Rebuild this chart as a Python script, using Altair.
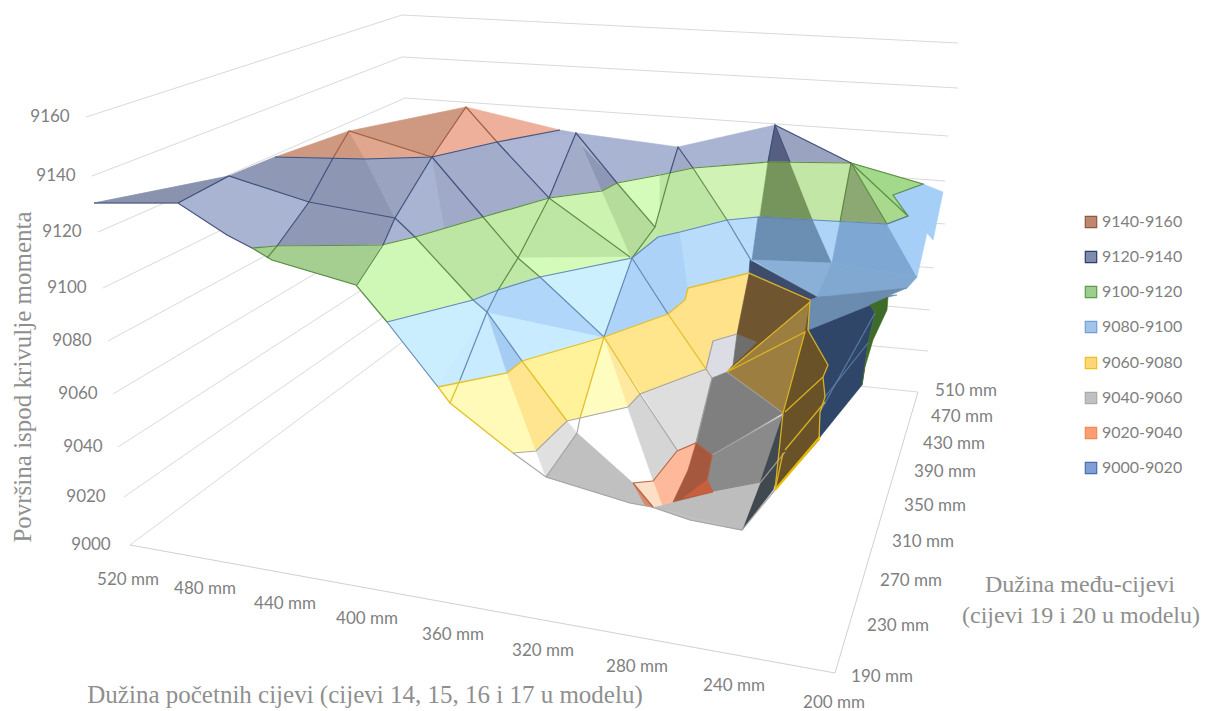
import altair as alt
import pandas as pd

W, H = 1193, 703
SANS, SERIF = "Lato", "Liberation Serif"

z_labels = ["9160","9140","9120","9100","9080","9060","9040","9020","9000"]
z_lx = [50,56,62,67,72,78,83,86,91]
z_ly = [117,176,232,288,341,394,447,497,545]
x_labels = ["520 mm","480 mm","440 mm","400 mm","360 mm","320 mm","280 mm","240 mm","200 mm"]
x_lx = [128,205,285,367,453,543,637,734,834]
x_ly = [580,589,604,619,635,651,667,686,703]
y_labels = ["510 mm","470 mm","430 mm","390 mm","350 mm","310 mm","270 mm","230 mm","190 mm"]
y_lx = [966,962,954,945,935,923,911,898,882]
y_ly = [391,417,444,472,506,542,581,626,677]
legend_labels = ["9140-9160","9120-9140","9100-9120","9080-9100","9060-9080","9040-9060","9020-9040","9000-9020"]
legend_fill = ["#c0876e","#7f8cb0","#9ccf8b","#a3c3ea","#fdd777","#c0c0c0","#fb9f73","#7f9fd6"]
legend_line = ["#8c5a45","#2f3d66","#5f9a4d","#6f9fd6","#efc020","#aaaaaa","#f08a5a","#4a6ba8"]
legend_y = [222,257,292,327,363,398,433,468]

wall_start = [(86,117),(92,176),(98,232),(103,288),(108,341),(113,394),(118,447),(124,497),(130,545)]
wall_back = [(402,15),(402,57),(405,98),(405,140),(405,180),(405,220),(405,262),(405,302),(405,340)]
wall_end = [(958,43),(958,88),(948,136),(945,181),(945,224),(934,268),(930,310),(928,351),(918,392)]
floor_edges = [[(130,545),(835,673),(918,392)]]

band_9140 = [
 ("#eeb09a",[(466,107),(560,130),(497,142),(432,157)]),
 ("#cf9880",[(275,157),(349,131),(466,107),(432,157),(365,159)]),
 ("#e0a78e",[(349,131),(432,157),(365,159)]),
]
band_9120 = [
 ("#a9b3d2",[(94,203),(229,176),(275,157),(365,159),(432,157),(497,142),(560,130),(576,133),(678,147),(775,125),(851,163),(768,162),(693,168),(660,175),(617,183),(602,191),(549,198),(483,217),(415,237),(382,245),(277,246),(252,248),(227,235),(178,203)]),
 ("#8993ae",[(94,203),(178,203),(229,176)]),
 ("#8f99b6",[(229,176),(275,157),(333,158),(309,202)]),
 ("#8d96b2",[(333,158),(365,159),(395,218),(309,202)]),
 ("#9aa3bf",[(365,159),(432,157),(395,218)]),
 ("#8f99b6",[(309,202),(395,218),(382,245),(277,246)]),
 ("#a3accb",[(432,157),(497,142),(549,198),(483,217)]),
 ("#a0aac8",[(432,157),(483,217),(445,230)]),
 ("#adb6d4",[(497,142),(576,133),(549,198)]),
 ("#a2abc8",[(576,133),(602,191),(549,198)]),
 ("#8e97b5",[(583,147),(617,183),(602,191)]),
 ("#565f82",[(775,125),(768,162),(790,162)]),
 ("#9aa3c0",[(775,125),(851,163),(790,162)]),
 ("#a0a9c5",[(678,147),(670,173),(693,168)]),
]
band_9100 = [
 ("#bfe8a6",[(252,248),(277,246),(382,245),(415,237),(483,217),(549,198),(602,191),(617,183),(660,175),(693,168),(768,162),(851,163),(923,184),(893,195),(908,216),(887,224),(813,220),(758,217),(727,220),(680,232),(658,237),(632,258),(540,277),(498,290),(473,300),(387,322),(356,285),(272,260)]),
 ("#a5cf90",[(252,248),(382,245),(356,285),(272,260)]),
 ("#cff7b5",[(382,245),(415,237),(473,300),(387,322),(357,285)]),
 ("#bde5a3",[(415,237),(483,217),(518,258),(498,290),(473,300)]),
 ("#c2eba8",[(483,217),(549,198),(518,258)]),
 ("#bde5a3",[(549,198),(630,257),(522,257)]),
 ("#d4fbba",[(518,258),(630,257),(540,277)]),
 ("#cdf3b0",[(549,198),(602,191),(630,257)]),
 ("#b5dc9a",[(602,191),(617,183),(655,227),(632,258)]),
 ("#d4fbba",[(617,183),(670,173),(655,227)]),
 ("#bde5a3",[(660,175),(693,168),(727,220),(660,236)]),
 ("#d0f3b5",[(693,168),(768,162),(758,217),(727,220)]),
 ("#76955c",[(768,162),(790,162),(813,220),(760,217)]),
 ("#c2e6a5",[(790,162),(851,163),(840,222),(813,220)]),
 ("#8ca873",[(851,163),(887,224),(840,222)]),
 ("#a9d98c",[(851,163),(908,216),(887,224)]),
 ("#a3d98a",[(851,163),(923,184),(893,195),(908,216)]),
]
band_9080 = [
 ("#b9dcfb",[(387,322),(473,300),(498,290),(540,277),(632,258),(658,237),(680,232),(727,220),(758,217),(813,220),(887,224),(917,277),(907,288),(810,300),(749,274),(688,288),(685,300),(668,314),(604,337),(522,361),(507,373),(438,387)]),
 ("#cbeeff",[(387,322),(473,300),(487,312),(438,387)]),
 ("#c8ebff",[(487,312),(522,361),(507,373),(438,387)]),
 ("#a5cdf3",[(487,312),(522,361),(507,373)]),
 ("#c8ebff",[(487,312),(604,337),(522,361)]),
 ("#b0d6fa",[(487,312),(498,290),(540,277),(604,337)]),
 ("#cdf0ff",[(540,277),(632,258),(604,337)]),
 ("#add4f8",[(632,258),(668,314),(604,337)]),
 ("#acd3f7",[(632,258),(658,237),(680,232),(688,288),(685,300),(668,314)]),
 ("#b9dcfb",[(680,232),(727,220),(752,262),(749,274),(688,288)]),
 ("#6b8fb3",[(758,217),(813,220),(832,263),(752,260)]),
 ("#aed4f7",[(813,220),(840,222),(832,263)]),
 ("#7ea8d3",[(840,222),(887,224),(917,277),(832,263)]),
 ("#a5cff7",[(893,195),(923,184),(943,192),(933,240),(927,233),(908,216)]),
 ("#a5cff7",[(887,224),(908,216),(927,233),(917,277)]),
 ("#8ab0d8",[(753,260),(832,263),(817,297)]),
 ("#3c4c6a",[(750,260),(817,297),(810,300),(749,273)]),
 ("#81a8d0",[(832,263),(917,277),(907,288),(817,297)]),
 ("#6b8caf",[(810,300),(820,297),(907,288),(890,295),(873,307),(808,330)]),
]
band_9060 = [
 ("#fffab8",[(438,387),(507,373),(522,361),(567,421),(536,451),(513,453),(450,403)]),
 ("#ffe58f",[(507,373),(522,361),(567,421),(536,451)]),
 ("#fff29a",[(522,361),(604,337),(580,418),(567,421)]),
 ("#fffcc0",[(604,337),(628,407),(580,418)]),
 ("#ffe9a0",[(604,337),(640,394),(628,407)]),
 ("#ffe68c",[(604,337),(668,314),(706,369),(642,394)]),
 ("#ffe28a",[(668,314),(685,300),(688,288),(749,273),(738,334),(713,341),(706,369)]),
]
band_9040 = [
 ("#ffffff",[(567,421),(628,407),(653,482),(633,483),(577,433)]),
 ("#ffffff",[(513,453),(536,451),(546,477)]),
 ("#e0e0e0",[(536,451),(567,421),(577,433),(546,477)]),
 ("#c0c0c0",[(546,477),(577,433),(633,483),(652,507),(630,503)]),
 ("#d5d5d5",[(628,408),(640,395),(677,450),(653,480)]),
 ("#dedede",[(642,394),(706,370),(712,378),(696,443),(677,450)]),
 ("#dcdce4",[(706,369),(713,341),(737,334),(733,365),(727,372),(712,378)]),
 ("#7f7f7f",[(712,378),(727,372),(783,413),(712,455),(696,443)]),
 ("#6e6e6e",[(733,365),(737,334),(757,342)]),
 ("#8a8a8a",[(783,415),(785,450),(760,483),(713,492),(707,480),(712,455)]),
 ("#404850",[(783,415),(785,452),(773,490),(742,530),(760,483)]),
 ("#bdbdbd",[(653,507),(713,492),(760,483),(742,530)]),
 ("#c0c0c0",[(652,507),(690,520),(742,530),(653,507)]),
]
band_9020 = [
 ("#fdb99a",[(633,483),(653,481),(677,451),(696,443),(688,470),(673,502),(662,505)]),
 ("#fddfc5",[(633,483),(653,481),(662,505),(653,507)]),
 ("#a5583e",[(696,443),(712,455),(707,480),(713,492),(673,502),(688,470)]),
 ("#c8603f",[(707,480),(713,492),(683,498)]),
 ("#d98a6a",[(633,483),(653,507),(645,505)]),
]
band_shadow = [
 ("#6f5530",[(737,334),(749,274),(810,300),(810,302),(727,372),(733,365),(757,342)]),
 ("#9c7e40",[(727,372),(810,302),(805,332),(783,413)]),
 ("#6a5228",[(805,332),(810,302),(808,330),(828,365),(823,377),(825,397),(820,412),(819,440),(775,490),(783,413)]),
 ("#2f4668",[(808,330),(870,305),(875,313),(868,343),(862,385),(820,437),(820,412),(825,397),(823,377),(828,365)]),
 ("#6b8caf",[(810,302),(808,330),(870,305),(867,302),(897,295),(817,297)]),
 ("#3f6b28",[(870,305),(888,297),(887,310),(873,340),(865,367),(862,385),(868,343),(875,313)]),
]

line_9120 = ("#3a4a78",1.2,[
 [(94,203),(178,203),(227,235),(252,248)],
 [(178,203),(229,176),(309,202),(395,218)],
 [(333,158),(309,202),(277,246)],
 [(275,157),(365,159),(432,157),(497,142),(560,130)],
 [(432,157),(395,218),(383,245)],[(395,218),(415,237)],[(432,157),(483,217)],
 [(497,142),(549,198),(576,133),(617,183)],
 [(670,173),(678,147),(693,168)],
 [(768,162),(775,125),(790,162)],[(775,125),(851,163)],
])
line_9140 = ("#9a5a3e",1.2,[
 [(333,158),(349,131),(432,157),(466,107),(497,142)],
])
line_9100 = ("#55853f",1.2,[
 [(252,248),(272,260),(356,285),(387,322)],
 [(851,163),(768,162),(693,168),(660,175),(617,183),(602,191),(549,198),(483,217),(415,237),(382,245),(277,246),(252,248)],
 [(277,246),(267,258)],[(383,245),(357,285)],[(415,237),(473,300)],
 [(483,217),(518,258),(540,277)],[(549,198),(518,258),(498,290)],[(549,198),(630,257)],
 [(617,183),(655,227),(632,258)],[(670,173),(655,227)],[(693,168),(727,220)],
 [(851,163),(840,222)],[(851,163),(887,224)],[(851,163),(908,216),(887,224)],
 [(851,163),(923,184),(893,195),(908,216)],
])
line_9080 = ("#5b82ad",1.2,[
 [(387,322),(473,300),(498,290),(540,277),(632,258),(658,237),(680,232),(727,220),(758,217),(813,220),(887,224),(908,216)],
 [(387,322),(438,387)],
 [(473,300),(487,312),(522,361)],[(498,290),(487,312),(460,380)],
 [(540,277),(604,337),(632,258),(668,314)],[(727,220),(752,262)],
 [(820,412),(875,313)],[(825,397),(868,343)],
])
line_9060 = ("#e2bb20",1.3,[
 [(438,387),(507,373),(522,361),(604,337),(668,314),(685,300),(688,288),(749,273),(810,300),(808,330),(828,365),(823,377),(825,397),(820,412),(819,440)],
 [(438,387),(450,403),(513,453)],
 [(460,380),(450,403)],[(522,361),(567,421)],[(604,337),(580,418)],[(604,337),(640,394)],[(668,314),(706,369)],
 [(727,372),(810,302)],[(727,372),(805,332),(783,413),(775,490)],[(785,412),(823,377)],[(785,450),(825,402)],[(775,490),(783,453)],
])
line_edge = ("#f2c400",2.5,[[(775,490),(820,437)]])
line_9040 = ("#a0a0a0",1.2,[
 [(513,453),(536,451),(567,421),(628,407),(640,394),(706,369),(713,341),(737,334)],
 [(513,453),(546,477),(630,503),(652,507),(690,520),(742,530),(775,490)],
 [(546,477),(577,433),(580,418)],[(640,394),(677,450)],[(706,369),(712,378),(696,443)],[(727,372),(783,413)],
 [(712,455),(783,415)],[(760,483),(785,452)],
])
line_9020 = ("#b0603f",1.2,[
 [(633,483),(653,481),(677,451),(696,443),(712,455),(707,480)],[(633,483),(653,507)],
])

title_text = ["Dužina početnih cijevi (cijevi 14, 15, 16 i 17 u modelu)","Dužina među-cijevi","(cijevi 19 i 20 u modelu)"]
title_x = [365,1080,1081]
title_y = [695,585,616]
title_size = [25,24,24]
left_title = "Površina ispod krivulje momenta"

def poly(c, pts):
    ring = [list(p) for p in pts]
    if ring[0] != ring[-1]:
        ring.append(ring[0])
    return {"type":"Feature","geometry":{"type":"Polygon","coordinates":[ring]},"properties":{"c":c}}

def path(c, w, pts):
    return {"type":"Feature","geometry":{"type":"LineString","coordinates":[list(p) for p in pts]},"properties":{"c":c,"w":w}}

grid = [path("#d9d9d9",1,[s,b,e]) for s,b,e in zip(wall_start,wall_back,wall_end)]
grid += [path("#d0d0d0",1,p) for p in floor_edges]

fills = []
for band in [band_9140,band_9120,band_9100,band_9080,band_9060,band_9040,band_9020,band_shadow]:
    fills += [poly(c,p) for c,p in band]

lines = []
for c,w,ps in [line_9140,line_9100,line_9080,line_9040,line_9020,line_9120,line_9060,line_edge]:
    lines += [path(c,w,p) for p in ps]

xs = alt.Scale(domain=[8,8+W], range=[0,W])
ys = alt.Scale(domain=[8+H,8], range=[H,0])

def geo(values, **kw):
    return alt.Chart(alt.Data(values=values)).mark_geoshape(**kw).project(type="identity", scale=1, translate=[-8,-8])

grid_l = geo(grid, filled=False).encode(stroke=alt.Color("properties.c:N",scale=None,legend=None),
                                        strokeWidth=alt.value(1))
fill_l = geo(fills, strokeWidth=0.6).encode(fill=alt.Color("properties.c:N",scale=None,legend=None),
                                            stroke=alt.Color("properties.c:N",scale=None,legend=None))
line_l = geo(lines, filled=False, opacity=0.9).encode(stroke=alt.Color("properties.c:N",scale=None,legend=None),
                                         strokeWidth=alt.StrokeWidth("properties.w:Q",scale=None,legend=None))

axis_df = pd.DataFrame({"t":z_labels+x_labels+y_labels,"x":z_lx+x_lx+y_lx,"y":z_ly+x_ly+y_ly})
axis_l = alt.Chart(axis_df).mark_text(font=SANS,fontSize=17,color="#7f7f7f",align="center",baseline="middle").encode(
    x=alt.X("x:Q",scale=xs,axis=None), y=alt.Y("y:Q",scale=ys,axis=None), text="t:N")

title_df = pd.DataFrame({"t":title_text,"x":title_x,"y":title_y,"s":title_size})
title_l = alt.Chart(title_df).mark_text(font=SERIF,color="#8f8f8f",align="center",baseline="middle").encode(
    x=alt.X("x:Q",scale=xs,axis=None), y=alt.Y("y:Q",scale=ys,axis=None), text="t:N",
    size=alt.Size("s:Q",scale=None,legend=None))

left_df = pd.DataFrame({"t":[left_title],"x":[23],"y":[377]})
left_l = alt.Chart(left_df).mark_text(font=SERIF,fontSize=25,color="#8f8f8f",align="center",baseline="middle",angle=270).encode(
    x=alt.X("x:Q",scale=xs,axis=None), y=alt.Y("y:Q",scale=ys,axis=None), text="t:N")

leg_df = pd.DataFrame({"t":legend_labels,"f":legend_fill,"s":legend_line,"y":legend_y,"x":[1091]*8,"tx":[1102]*8})
leg_sw = alt.Chart(leg_df).mark_square(size=130,strokeWidth=1.2,opacity=1).encode(
    x=alt.X("x:Q",scale=xs,axis=None), y=alt.Y("y:Q",scale=ys,axis=None),
    fill=alt.Color("f:N",scale=None,legend=None), stroke=alt.Color("s:N",scale=None,legend=None))
leg_tx = alt.Chart(leg_df).mark_text(font=SANS,fontSize=16,color="#7f7f7f",align="left",baseline="middle").encode(
    x=alt.X("tx:Q",scale=xs,axis=None), y=alt.Y("y:Q",scale=ys,axis=None), text="t:N")

chart = alt.layer(grid_l,fill_l,line_l,axis_l,title_l,left_l,leg_sw,leg_tx).properties(
    width=W,height=H,padding=0,autosize=alt.AutoSizeParams(type="none")).configure_view(stroke=None)

chart.save("out.html", embed_options={"renderer":"svg","actions":False})
